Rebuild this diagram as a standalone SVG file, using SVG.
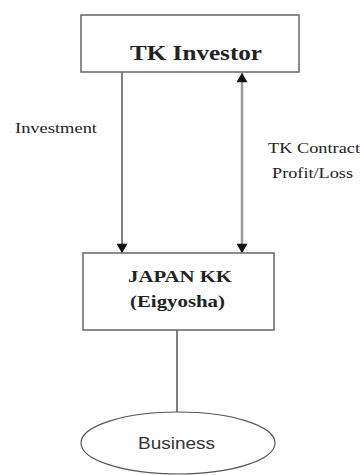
<svg xmlns="http://www.w3.org/2000/svg" width="360" height="475" viewBox="0 0 360 475">
<defs>
<marker id="ah" viewBox="0 0 10 12" refX="10" refY="6" markerWidth="12" markerHeight="11" orient="auto-start-reverse" markerUnits="userSpaceOnUse">
<path d="M0,0 L10,6 L0,12 z" fill="#111"/>
</marker>
<style>
.box{fill:#fff;stroke:#666;stroke-width:1.5}
.t{font-family:"Liberation Serif","Times New Roman",serif;fill:#222}
.b{font-weight:bold;font-size:20px}
.bb{font-weight:bold;font-size:16px}
.s{font-size:14px}
.c{stroke:#555;stroke-width:1.5;fill:none}
.c2{stroke:#999;stroke-width:2.5;fill:none}
</style>
</defs>
<rect width="360" height="475" fill="#fff"/>
<g id="connectors">
<line class="c" x1="122" y1="72" x2="122" y2="253" marker-end="url(#ah)"/>
<line class="c2" x1="242" y1="73" x2="242" y2="253" marker-start="url(#ah)" marker-end="url(#ah)"/>
<line class="c" x1="177" y1="330" x2="177" y2="412"/>
</g>
<g id="tk-investor">
<rect class="box" x="81" y="15" width="218" height="57"/>
<text class="t b" x="130" y="60" textLength="132" lengthAdjust="spacingAndGlyphs">TK Investor</text>
</g>
<g id="japan-kk">
<rect class="box" x="83" y="253" width="191" height="77"/>
<text class="t bb" x="128" y="282" textLength="104" lengthAdjust="spacingAndGlyphs">JAPAN KK</text>
<text class="t bb" x="130" y="307" textLength="95" lengthAdjust="spacingAndGlyphs">(Eigyosha)</text>
</g>
<g id="business">
<ellipse cx="178" cy="443" rx="97" ry="31" fill="#fff" stroke="#555" stroke-width="1.2"/>
<text x="138" y="449" font-family="'Liberation Sans',Arial,sans-serif" font-size="16" fill="#333" textLength="77" lengthAdjust="spacingAndGlyphs">Business</text>
</g>
<g id="labels">
<text class="t s" x="15" y="133" textLength="82" lengthAdjust="spacingAndGlyphs">Investment</text>
<text class="t s" x="268" y="153" textLength="92" lengthAdjust="spacingAndGlyphs">TK Contract</text>
<text class="t s" x="272" y="178" textLength="81" lengthAdjust="spacingAndGlyphs">Profit/Loss</text>
</g>
</svg>
